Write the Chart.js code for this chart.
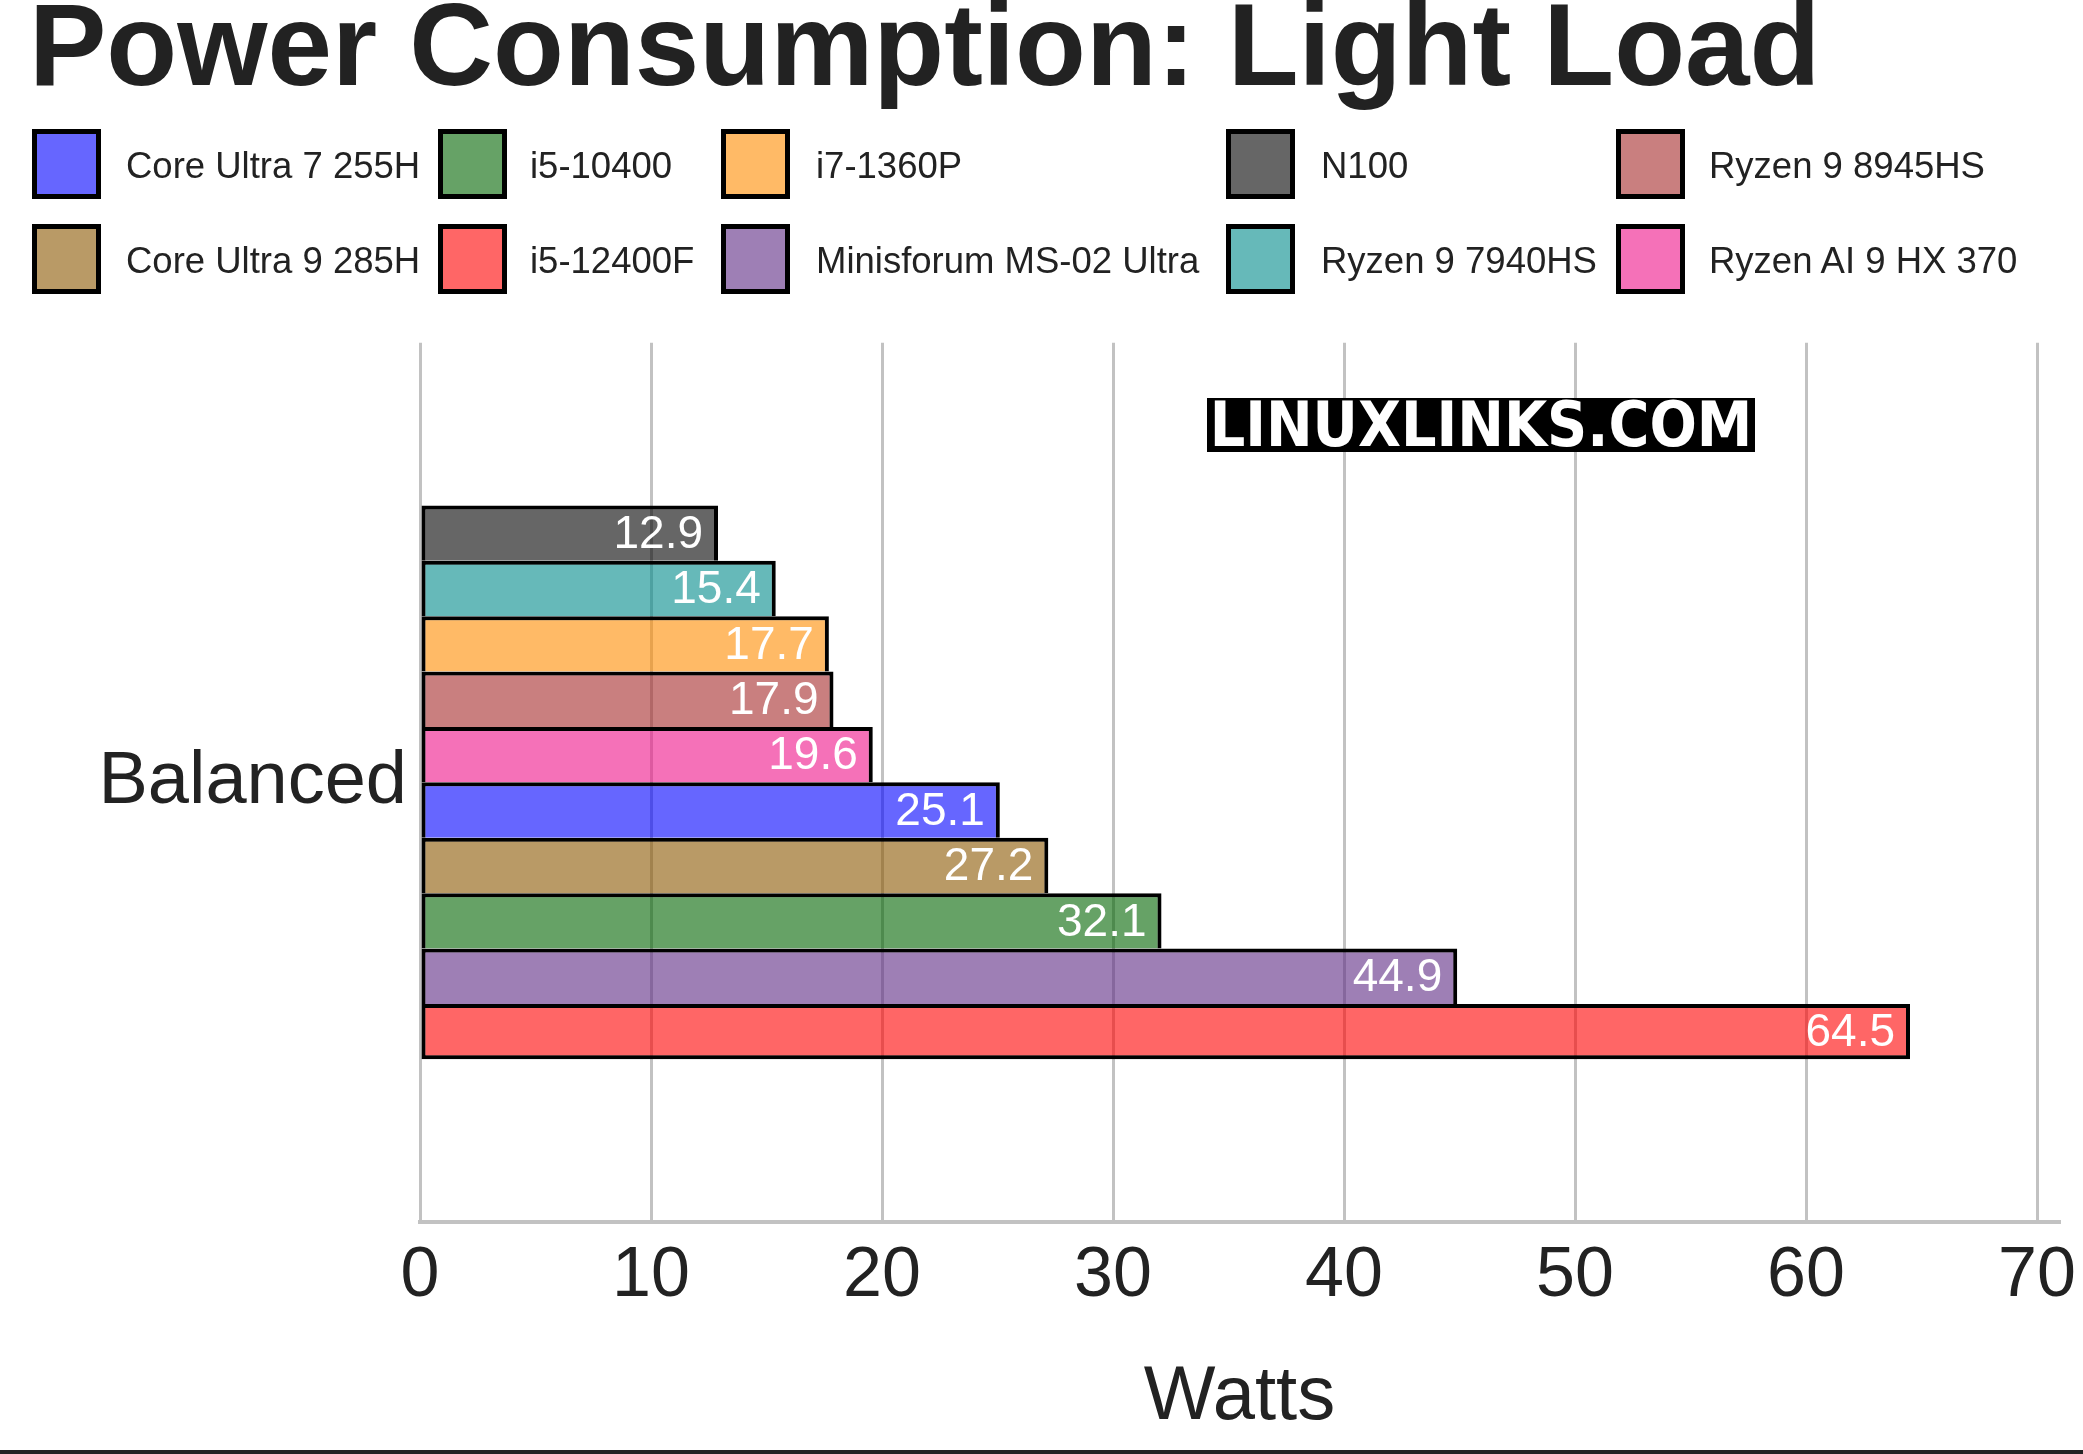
<!DOCTYPE html>
<html>
<head>
<meta charset="utf-8">
<title>Power Consumption: Light Load</title>
<script src="https://cdn.jsdelivr.net/npm/chart.js@4.4.1/dist/chart.umd.min.js"></script>
<style>
  body { margin: 0; background: #fff; }
  #wrap { position: relative; width: 2083px; height: 1454px; overflow: hidden;
          font-family: 'Liberation Sans', Arial, sans-serif; color: #222; }
  #chart { position: absolute; left: 0; top: 0; }
  .legend-box { position: absolute; width: 69px; height: 70px; box-sizing: border-box; border: 5px solid #000; }
  .legend-text { position: absolute; height: 70px; line-height: 74px; font-size: 36.5px; white-space: nowrap; }
  #watermark { position: absolute; left: 1207px; top: 398px; width: 548px; height: 54px; overflow: hidden;
               background: #000; color: #fff; text-align: center;
               font: bold 62px/54px 'DejaVu Sans Condensed', 'DejaVu Sans', sans-serif; font-stretch: condensed; }
  #rule { position: absolute; left: 0; top: 1450px; width: 2083px; height: 4px; background: #222; }
</style>
</head>
<body>
<div id="wrap">
  <canvas id="chart" width="2083" height="1454"></canvas>
  <div id="legend"></div>
  <div id="watermark">LINUXLINKS.COM</div>
  <div id="rule"></div>
</div>
<script>
// data, top bar first
const categories = ['Balanced'];
const processors = ['N100', 'Ryzen 9 7940HS', 'i7-1360P', 'Ryzen 9 8945HS', 'Ryzen AI 9 HX 370',
                    'Core Ultra 7 255H', 'Core Ultra 9 285H', 'i5-10400', 'Minisforum MS-02 Ultra', 'i5-12400F'];
const watts = [12.9, 15.4, 17.7, 17.9, 19.6, 25.1, 27.2, 32.1, 44.9, 64.5];
const xTicks = [0, 10, 20, 30, 40, 50, 60, 70];
const legendOrder = ['Core Ultra 7 255H', 'Core Ultra 9 285H', 'i5-10400', 'i5-12400F', 'i7-1360P',
                     'Minisforum MS-02 Ultra', 'N100', 'Ryzen 9 7940HS', 'Ryzen 9 8945HS', 'Ryzen AI 9 HX 370'];

// styles
const colours = {
  'Core Ultra 7 255H': 'rgba(0, 0, 255, 0.6)',
  'Core Ultra 9 285H': 'rgba(138, 86, 0, 0.6)',
  'i5-10400': 'rgba(0, 100, 0, 0.6)',
  'i5-12400F': 'rgba(255, 0, 0, 0.6)',
  'i7-1360P': 'rgba(255, 140, 0, 0.6)',
  'Minisforum MS-02 Ultra': 'rgba(93, 42, 131, 0.6)',
  'N100': 'rgba(0, 0, 0, 0.6)',
  'Ryzen 9 7940HS': 'rgba(0, 139, 139, 0.6)',
  'Ryzen 9 8945HS': 'rgba(165, 42, 42, 0.6)',
  'Ryzen AI 9 HX 370': 'rgba(238, 18, 137, 0.6)'
};
const legendCols = [{box: 32, text: 126}, {box: 438, text: 530}, {box: 721, text: 816},
                    {box: 1226, text: 1321}, {box: 1616, text: 1709}];
const legendRows = [129, 224];
const FONT = "'Liberation Sans', Arial, sans-serif";

Chart.defaults.font.family = FONT;
Chart.defaults.color = '#222';

const datasets = processors.map(function (name, i) {
  return {
    label: name,
    data: [watts[i]],
    backgroundColor: colours[name],
    borderColor: '#000',
    // bars touch, so only the last one gets a bottom edge
    borderWidth: {top: 4, left: 4, right: 4, bottom: i === processors.length - 1 ? 4 : 0},
    borderSkipped: false,
    categoryPercentage: 0.63,
    barPercentage: 1
  };
});

const valueLabels = {
  id: 'valueLabels',
  afterDatasetsDraw(chart) {
    const ctx = chart.ctx;
    ctx.save();
    ctx.font = '46px ' + FONT;
    ctx.fillStyle = '#fff';
    ctx.textAlign = 'right';
    ctx.textBaseline = 'middle';
    chart.data.datasets.forEach(function (ds, i) {
      const bar = chart.getDatasetMeta(i).data[0];
      ctx.fillText(ds.data[0].toFixed(1), bar.x - 15, bar.y + 2);
    });
    ctx.restore();
  }
};

new Chart(document.getElementById('chart'), {
  type: 'bar',
  data: { labels: categories, datasets: datasets },
  plugins: [valueLabels],
  options: {
    indexAxis: 'y',
    responsive: false,
    devicePixelRatio: 1,
    animation: false,
    layout: { padding: {left: 29, right: 24, top: 0, bottom: 0} },
    plugins: {
      legend: { display: false },
      tooltip: { enabled: false },
      title: {
        display: true,
        text: 'Power Consumption: Light Load',
        align: 'start',
        color: '#222',
        font: { size: 116, weight: 'bold', lineHeight: 0.92 },
        padding: { top: 0, bottom: 236 }
      }
    },
    scales: {
      x: {
        type: 'linear',
        min: 0,
        max: 70.95,
        grid: { color: '#c2c2c2', lineWidth: 3, drawTicks: false },
        border: { color: '#c2c2c2', width: 4 },
        ticks: { font: { size: 70 }, color: '#222', padding: 13, includeBounds: false },
        afterBuildTicks: function (s) { s.ticks = xTicks.map(v => ({value: v})); },
        title: { display: true, text: 'Watts', color: '#222', font: { size: 76 }, padding: {top: 0, bottom: 10} },
        afterFit: function (s) { s.height = 232; s.paddingLeft = 0; s.paddingRight = 0; }
      },
      y: {
        grid: { display: false },
        border: { display: false },
        ticks: { font: { size: 74 }, color: '#222', padding: 5 },
        afterFit: function (s) { s.width = 391; s.paddingTop = 0; s.paddingBottom = 0; }
      }
    }
  }
});

// legend, column by column
const legend = document.getElementById('legend');
legendOrder.forEach(function (name, k) {
  const col = legendCols[Math.floor(k / 2)];
  const top = legendRows[k % 2];
  const box = document.createElement('div');
  box.className = 'legend-box';
  box.style.left = col.box + 'px';
  box.style.top = top + 'px';
  box.style.background = colours[name];
  const txt = document.createElement('div');
  txt.className = 'legend-text';
  txt.style.left = col.text + 'px';
  txt.style.top = top + 'px';
  txt.textContent = name;
  legend.appendChild(box);
  legend.appendChild(txt);
});
</script>
</body>
</html>
